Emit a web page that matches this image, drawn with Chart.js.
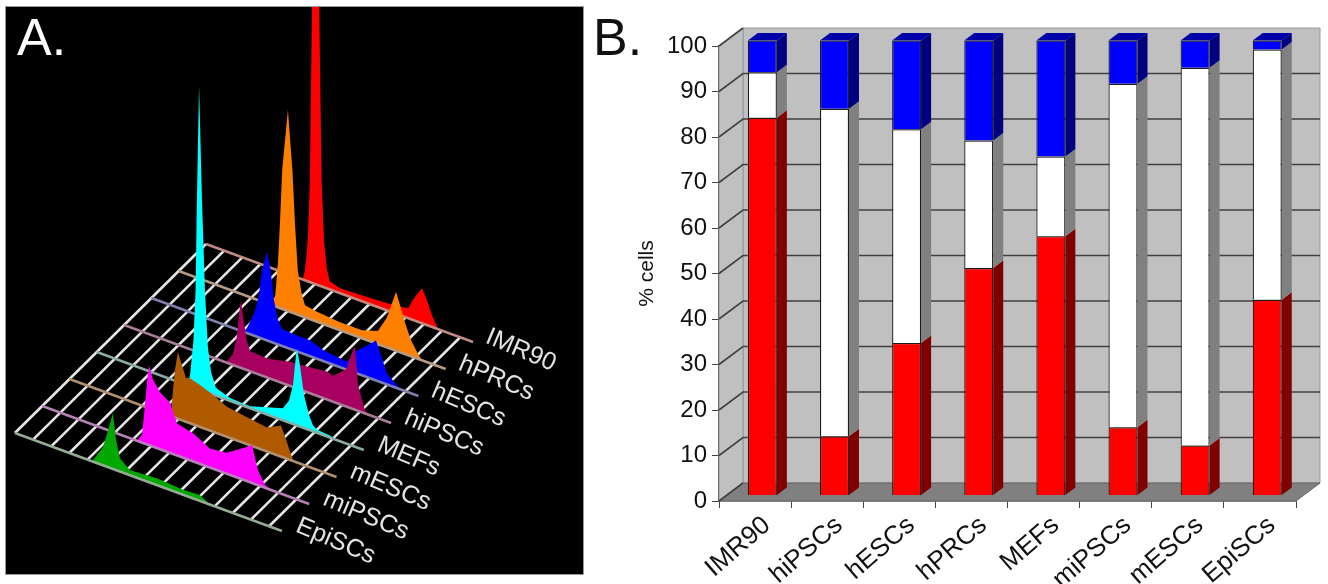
<!DOCTYPE html>
<html>
<head>
<meta charset="utf-8">
<script src="https://cdn.jsdelivr.net/npm/chart.js@4"></script>
<style>
  html, body { margin: 0; padding: 0; background: #fff; }
  body { position: relative; width: 1328px; height: 584px; overflow: hidden; }
  canvas { position: absolute; filter: blur(0.6px); }
  #ridges { left: 6px; top: 7px; outline: 1px solid #999; }
  #bars { left: 590px; top: 0; }
  .tag { position: absolute; top: 11px; font: 52px/52px "Liberation Sans", Arial, sans-serif; }
</style>
</head>
<body>
<canvas id="ridges" width="577" height="567"></canvas>
<canvas id="bars" width="738" height="584"></canvas>
<div class="tag" style="left:17px;color:#fff">A.</div>
<div class="tag" style="left:593px;color:#111">B.</div>
<script>
// panel A, back row first
const rowNames = ['IMR90', 'hPRCs', 'hESCs', 'hiPSCs', 'MEFs', 'mESCs', 'miPSCs', 'EpiSCs'];
const rowColors = ['#c08a80', '#b89a80', '#8080b0', '#a87c98', '#88aca4', '#b09070', '#b880b8', '#94ac94'];
const ridgeColors = ['#ff0000', '#ff8000', '#0000ff', '#a80060', '#00ffff', '#b05a00', '#ff00ff', '#00a800'];
const crossPositions = [0, 6.8, 13.6, 20.4, 27.2, 34, 40.8, 47.6, 54.4, 61.2, 68, 74.8, 81.6, 88.4, 95.2];

const posIMR90 = [36.3, 37, 37.6, 38.2, 38.9, 39.7, 41.2, 42.4, 43.3, 44.2, 45.2, 46.4, 50.2, 60.3, 70.8, 75.7, 78.3, 80.9, 82.8, 84.6, 86.9];
const cellsIMR90 = [0, 10, 24, 46, 102, 276, 354, 278, 106, 47, 20, 8, 5, 6, 8, 10, 24, 35, 25, 12, 0];
const posHPRCs = [35.3, 36.2, 37.2, 37.9, 38.8, 40.9, 42.6, 43.6, 44.6, 46, 47.3, 51.8, 60.4, 68.7, 74.6, 78, 81.4, 82.9, 84.8, 87, 89.6, 91.1];
const cellsHPRCs = [0, 12, 46, 84, 140, 201, 142, 88, 44, 23, 12, 10, 8, 8, 13, 30, 59, 47, 31, 16, 5, 0];
const posHESCs = [35, 36.9, 38.9, 40.3, 41.5, 43.3, 44.6, 45.9, 47.2, 48.9, 53.8, 59.4, 64.3, 73.3, 77, 82.6, 84.1, 86, 88.2, 92.4, 94.2];
const cellsHESCs = [0, 12, 26, 43, 69, 89, 72, 43, 26, 17, 16, 16, 11, 8, 23, 36, 40, 27, 11, 2, 0];
const posHiPSCs = [38.2, 40.8, 42.3, 43, 43.8, 44.7, 45.9, 47.2, 53.9, 62.1, 69.6, 76, 78.2, 83.1, 85.7, 86.5, 87.6, 90.2, 92.1];
const cellsHiPSCs = [0, 11, 31, 52, 68, 49, 30, 20, 19, 24, 26, 28, 26, 37, 59, 63, 26, 3, 0];
const posMEFs = [33.4, 34.9, 36.2, 37, 37.5, 38.3, 39.4, 40.5, 41.6, 42.8, 44.6, 49.9, 57.4, 69.7, 72, 73.5, 74.6, 75, 76.1, 77.6, 79.5, 81, 82.5, 87.3, 90.3];
const cellsMEFs = [0, 10, 47, 98, 189, 304, 190, 101, 46, 22, 8, 3, 2, 12, 22, 39, 70, 77, 61, 33, 15, 6, 3, 2, 0];
const posMESCs = [38, 38.4, 39.5, 40.6, 42.1, 43.6, 45.1, 48.9, 52.6, 59, 66.5, 74, 79.2, 81.5, 83.7, 86.3];
const cellsMESCs = [0, 16, 48, 67, 55, 44, 45, 42, 38, 30, 27, 24, 31, 16, 1, 0];
const posMiPSCs = [35.5, 37.4, 38.5, 39.3, 40, 41.5, 44.1, 47.9, 50.5, 56.5, 62.9, 69.2, 76, 78.6, 80.8, 83.4, 86];
const cellsMiPSCs = [0, 8, 39, 64, 80, 67, 57, 50, 32, 28, 19, 21, 33, 38, 15, 3, 0];
const posEpiSCs = [28.9, 33, 34.9, 36.7, 37.9, 39.4, 43.1, 53.2, 62.9, 69.3, 73.1];
const cellsEpiSCs = [0, 18, 37, 56, 30, 13, 5, 7, 5, 6, 0];

const ridgePos = [posIMR90, posHPRCs, posHESCs, posHiPSCs, posMEFs, posMESCs, posMiPSCs, posEpiSCs];
const ridgeCells = [cellsIMR90, cellsHPRCs, cellsHESCs, cellsHiPSCs, cellsMEFs, cellsMESCs, cellsMiPSCs, cellsEpiSCs];

// panel B
const categories = ['IMR90', 'hiPSCs', 'hESCs', 'hPRCs', 'MEFs', 'miPSCs', 'mESCs', 'EpiSCs'];
const redValues = [83, 13, 33.5, 50, 57, 15, 11, 43];
const whiteValues = [10, 72, 47, 28, 17.5, 75.5, 83, 55];
const blueValues = [7, 15, 19.5, 22, 25.5, 9.5, 6, 2];
const sideColors = ['#800000', '#808080', '#000080'];

const sansFont = '"Liberation Sans", Arial, sans-serif';

// tilted floor of panel A: row, position along the row, height above the row
function project(row, pos, height) {
  return {
    x: 206 - 27.3 * row + 2.67 * pos,
    y: 244 + 27 * row + 0.98 * pos - height
  };
}

const ridgeSets = [];

crossPositions.forEach(p => {
  ridgeSets.push({
    data: [project(0, p, 0), project(7, p, 0)],
    borderColor: '#e6e6e6',
    borderWidth: 2.6
  });
});

rowNames.forEach((name, r) => {
  ridgeSets.push({
    label: name,
    data: ridgePos[r].map((p, i) => project(r, p, ridgeCells[r][i])),
    backgroundColor: ridgeColors[r],
    borderColor: ridgeColors[r],
    borderWidth: 0,
    fill: 'shape'
  });
  ridgeSets.push({
    data: [project(r, 0, 0), project(r, 100, 0)],
    borderColor: rowColors[r],
    borderWidth: 2.4
  });
});

// later sets have to paint on top
ridgeSets.forEach((d, i) => {
  d.order = ridgeSets.length - i;
  d.showLine = true;
  d.pointRadius = 0;
  d.tension = 0;
});

const rowLabels = {
  id: 'rowLabels',
  afterDatasetsDraw(chart) {
    const ctx = chart.ctx;
    ctx.save();
    ctx.fillStyle = '#e4e4e4';
    ctx.font = '25px ' + sansFont;
    ctx.textBaseline = 'middle';
    rowNames.forEach((name, r) => {
      const end = project(r, 100, 0);
      ctx.save();
      ctx.translate(chart.scales.x.getPixelForValue(end.x + 14 + r * 0.2), chart.scales.y.getPixelForValue(end.y - 6));
      ctx.rotate(23 * Math.PI / 180);
      ctx.fillText(name, 0, 0);
      ctx.restore();
    });
    ctx.restore();
  }
};

new Chart(document.getElementById('ridges'), {
  type: 'scatter',
  data: { datasets: ridgeSets },
  plugins: [{
    id: 'blackPanel',
    beforeDraw(chart) {
      chart.ctx.fillStyle = '#000';
      chart.ctx.fillRect(0, 0, chart.width, chart.height);
    }
  }, rowLabels],
  options: {
    responsive: false,
    animation: false,
    events: [],
    layout: { padding: 0 },
    plugins: { legend: { display: false }, tooltip: { enabled: false } },
    scales: {
      x: { type: 'linear', display: false, min: 6, max: 583 },
      y: { type: 'linear', display: false, min: 7, max: 574, reverse: true }
    }
  }
});

// depth of the 3d box and of the bars inside it
const wallDx = 24, wallDy = -18;
const barShiftX = 7.3, barShiftY = -5.5;
const barDepthX = 10, barDepthY = -7.5;

function polygon(ctx, pts, fill, stroke) {
  ctx.beginPath();
  pts.forEach((p, i) => i ? ctx.lineTo(p[0], p[1]) : ctx.moveTo(p[0], p[1]));
  ctx.closePath();
  ctx.fillStyle = fill;
  ctx.fill();
  if (stroke) {
    ctx.strokeStyle = stroke;
    ctx.lineWidth = 1;
    ctx.stroke();
  }
}

const box3d = {
  id: 'box3d',
  beforeDatasetsDraw(chart) {
    const ctx = chart.ctx;
    const a = chart.chartArea;
    const yScale = chart.scales.y;

    polygon(ctx, [[a.left + wallDx, a.top + wallDy], [a.right + wallDx, a.top + wallDy],
      [a.right + wallDx, a.bottom + wallDy], [a.left + wallDx, a.bottom + wallDy]], '#c0c0c0', '#999');
    polygon(ctx, [[a.left, a.top], [a.left + wallDx, a.top + wallDy],
      [a.left + wallDx, a.bottom + wallDy], [a.left, a.bottom]], '#c0c0c0', '#8a9aa4');
    polygon(ctx, [[a.left, a.bottom], [a.left + wallDx, a.bottom + wallDy],
      [a.right + wallDx, a.bottom + wallDy], [a.right, a.bottom]], '#808080', '#666');

    ctx.strokeStyle = '#404040';
    ctx.lineWidth = 1.6;
    yScale.ticks.forEach(t => {
      const y = yScale.getPixelForValue(t.value);
      ctx.beginPath();
      ctx.moveTo(a.left, y);
      ctx.lineTo(a.left + wallDx, y + wallDy);
      if (t.value > 0 && t.value < 100) ctx.lineTo(a.right + wallDx, y + wallDy);
      ctx.stroke();
    });

    // side and top faces come from the bar elements
    chart.data.datasets.forEach((d, i) => {
      chart.getDatasetMeta(i).data.forEach(b => {
        const left = b.x - b.width / 2 + barShiftX;
        const right = b.x + b.width / 2 + barShiftX;
        const top = b.y + barShiftY;
        const base = b.base + barShiftY;
        polygon(ctx, [[right, top], [right + barDepthX, top + barDepthY],
          [right + barDepthX, base + barDepthY], [right, base]], sideColors[i]);
        if (i === chart.data.datasets.length - 1) {
          polygon(ctx, [[left, top], [left + barDepthX, top + barDepthY],
            [right + barDepthX, top + barDepthY], [right, top]], '#0000a8');
        }
      });
    });

    ctx.save();
    ctx.translate(barShiftX, barShiftY);
  },
  afterDatasetsDraw(chart) {
    chart.ctx.restore();
  }
};

function barSet(label, values, color) {
  return {
    label: label,
    data: values,
    backgroundColor: color,
    borderColor: '#1a1a1a',
    borderWidth: 1.2,
    barPercentage: 0.402,
    categoryPercentage: 1
  };
}

new Chart(document.getElementById('bars'), {
  type: 'bar',
  data: {
    labels: categories,
    datasets: [
      barSet('red', redValues, '#ff0000'),
      barSet('white', whiteValues, '#ffffff'),
      barSet('blue', blueValues, '#0000ff')
    ]
  },
  plugins: [box3d],
  options: {
    responsive: false,
    animation: false,
    events: [],
    layout: { padding: { top: 46, right: 32, left: 0, bottom: 0 } },
    plugins: { legend: { display: false }, tooltip: { enabled: false } },
    scales: {
      x: {
        stacked: true,
        afterFit(scale) { scale.height = 83; },
        grid: { offset: true, drawOnChartArea: false, tickLength: 7, color: '#444' },
        border: { color: '#333', width: 1.5 },
        ticks: {
          autoSkip: false,
          minRotation: 41,
          maxRotation: 41,
          padding: 2,
          labelOffset: 12,
          color: '#111',
          font: { family: sansFont, size: 26 }
        }
      },
      y: {
        stacked: true,
        min: 0,
        max: 100,
        afterFit(scale) { scale.width = 129; },
        grid: { drawOnChartArea: false, tickLength: 7, color: '#444' },
        border: { color: '#444', width: 1.5 },
        title: {
          display: true,
          text: '% cells',
          color: '#111',
          padding: { top: 45, bottom: 0 },
          font: { family: sansFont, size: 21 }
        },
        ticks: {
          stepSize: 10,
          padding: 5,
          color: '#111',
          font: { family: sansFont, size: 24 }
        }
      }
    }
  }
});
</script>
</body>
</html>
